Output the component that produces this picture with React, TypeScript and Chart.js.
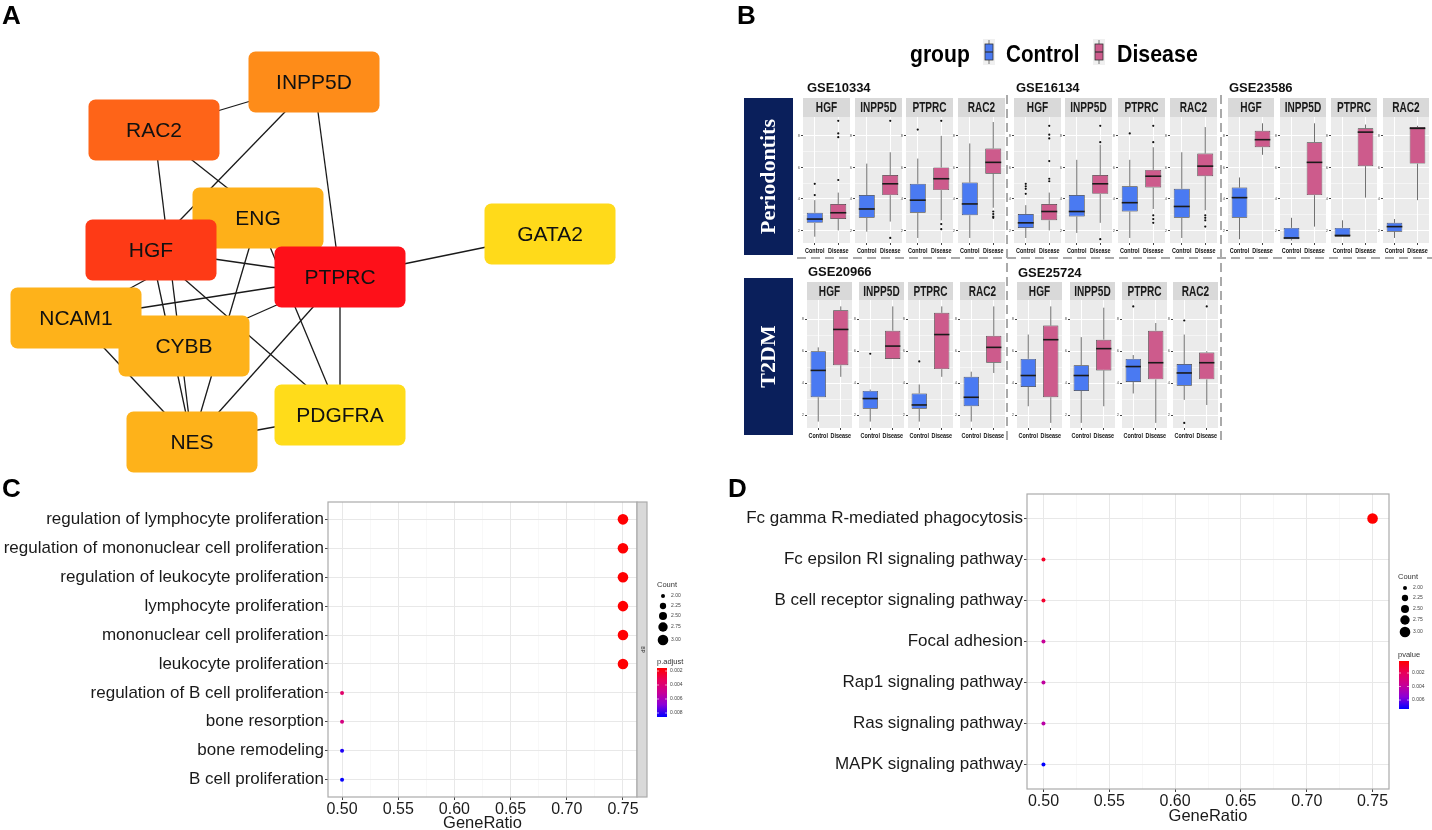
import React, { useEffect, useRef } from 'react';
import { Chart, registerables } from 'chart.js';

Chart.register(...registerables);
const SANS = "'Liberation Sans', Arial, Helvetica, sans-serif";
const SERIF = "'Liberation Serif', 'Times New Roman', serif";
Chart.defaults.font.family = SANS;

// ================= Panel A : PPI network =================
const nodeNames = ['INPP5D', 'RAC2', 'ENG', 'HGF', 'PTPRC', 'GATA2', 'NCAM1', 'CYBB', 'NES', 'PDGFRA'];
const nodeX = [314, 154, 258, 151, 340, 550, 76, 184, 192, 340];
const nodeY = [82, 130, 218, 250, 277, 234, 318, 346, 442, 415];
const edgeFrom = ['RAC2', 'INPP5D', 'INPP5D', 'RAC2', 'RAC2', 'HGF', 'ENG', 'ENG', 'HGF', 'HGF', 'NCAM1', 'NCAM1', 'CYBB', 'PTPRC', 'PTPRC', 'PTPRC', 'NCAM1', 'NES'];
const edgeTo = ['INPP5D', 'HGF', 'PTPRC', 'PTPRC', 'NES', 'NES', 'NES', 'PDGFRA', 'PTPRC', 'PDGFRA', 'ENG', 'PTPRC', 'PTPRC', 'NES', 'PDGFRA', 'GATA2', 'NES', 'PDGFRA'];
const nodeColors = ['#FE8C19', '#FE6418', '#FEB019', '#FE3A16', '#FE1019', '#FFDA1A', '#FEB21A', '#FEB21A', '#FEB21A', '#FFDC1A'];

// ================= Panel B : box plots =================
const genes = ['HGF', 'INPP5D', 'PTPRC', 'RAC2'];
const groups = ['Control', 'Disease'];
const datasetNames = ['GSE10334', 'GSE16134', 'GSE23586', 'GSE20966', 'GSE25724'];
const rowLabels = ['Periodontits', 'T2DM'];
// [gene][group] = [min, q1, median, q3, max]  (relative expression, 0-100 panel scale)
const gse10334Stats = [
  [[5, 16, 19, 24, 34], [10, 19, 24, 31, 40]],
  [[9, 20, 27, 38, 63], [17, 38, 47, 54, 72]],
  [[4, 24, 34, 47, 67], [18, 42, 51, 60, 85]],
  [[4, 22, 31, 48, 79], [28, 55, 64, 75, 96]],
];
const gse10334Outliers = [
  [[47, 38], [97, 87, 84, 50]],
  [[], [97, 4]],
  [[90], [97, 15, 11]],
  [[], [25, 23, 21, 20]],
];
const gse16134Stats = [
  [[4, 12, 16, 23, 30], [10, 18, 25, 31, 40]],
  [[8, 21, 25, 38, 66], [16, 39, 47, 54, 78]],
  [[4, 25, 32, 45, 66], [27, 44, 53, 58, 76]],
  [[4, 20, 29, 43, 72], [26, 53, 61, 71, 92]],
];
const gse16134Outliers = [
  [[47, 45, 43, 39], [93, 86, 83, 65, 51, 49]],
  [[], [93, 80, 3]],
  [[87], [93, 80, 22, 19, 16]],
  [[], [22, 20, 18, 13]],
];
const gse23586Stats = [
  [[3, 20, 36, 44, 52], [70, 76, 82, 89, 95]],
  [[2, 3, 4, 12, 20], [13, 38, 64, 80, 95]],
  [[5, 5, 6, 12, 18], [36, 61, 88, 91, 94]],
  [[4, 9, 13, 16, 19], [34, 63, 91, 92, 93]],
];
const gse23586Outliers = [[[], []], [[], []], [[], []], [[], []]];
const gse20966Stats = [
  [[5, 24, 45, 60, 63], [40, 49, 77, 92, 95]],
  [[5, 15, 23, 29, 30], [54, 54, 64, 76, 95]],
  [[5, 15, 18, 27, 34], [40, 46, 73, 90, 95]],
  [[5, 17, 24, 40, 44], [43, 51, 63, 72, 95]],
];
const gse20966Outliers = [[[], []], [[58], []], [[52], []], [[], []]];
const gse25724Stats = [
  [[17, 32, 41, 54, 73], [4, 24, 69, 80, 95]],
  [[4, 29, 41, 49, 71], [17, 45, 62, 69, 94]],
  [[27, 36, 48, 54, 57], [4, 38, 51, 76, 82]],
  [[22, 33, 43, 50, 73], [18, 38, 51, 59, 60]],
];
const gse25724Outliers = [[[], []], [[], []], [[95], []], [[84, 4], [95]]];
const bYMajor = [10, 35, 60, 85];
const bYMinor = [22.5, 47.5, 72.5];
const bYTickLabels = ['2', '4', '6', '8'];

// ================= Panel C : GO dot plot =================
const cTerms = ['regulation of lymphocyte proliferation', 'regulation of mononuclear cell proliferation', 'regulation of leukocyte proliferation', 'lymphocyte proliferation', 'mononuclear cell proliferation', 'leukocyte proliferation', 'regulation of B cell proliferation', 'bone resorption', 'bone remodeling', 'B cell proliferation'];
const cGeneRatio = [0.75, 0.75, 0.75, 0.75, 0.75, 0.75, 0.5, 0.5, 0.5, 0.5];
const cCount = [3, 3, 3, 3, 3, 3, 2, 2, 2, 2];
const cPadjust = [0.0016, 0.0016, 0.0016, 0.0016, 0.0016, 0.0016, 0.0037, 0.0044, 0.0082, 0.0085];
const cPRange = [0.00157, 0.00857];
const cPBreaks = [0.002, 0.004, 0.006, 0.008];

// ================= Panel D : KEGG dot plot =================
const dTerms = ['Fc gamma R-mediated phagocytosis', 'Fc epsilon RI signaling pathway', 'B cell receptor signaling pathway', 'Focal adhesion', 'Rap1 signaling pathway', 'Ras signaling pathway', 'MAPK signaling pathway'];
const dGeneRatio = [0.75, 0.5, 0.5, 0.5, 0.5, 0.5, 0.5];
const dCount = [3, 2, 2, 2, 2, 2, 2];
const dPvalue = [0.00022, 0.001, 0.0011, 0.0038, 0.004, 0.0042, 0.0073];
const dPRange = [0.00022, 0.00733];
const dPBreaks = [0.002, 0.004, 0.006];

const countBreaks = [2.0, 2.25, 2.5, 2.75, 3.0];
const ratioTicks = [0.5, 0.525, 0.55, 0.575, 0.6, 0.625, 0.65, 0.675, 0.7, 0.725, 0.75];

// ================= styles =================
const CTRL = '#4A7AF2';
const DIS = '#CD5B8C';
const PANEL_BG = '#EBEBEB';
const STRIP_BG = '#D9D9D9';
const NAVY = '#0A1F5B';

const bPanelLefts = [[803, 855, 906, 958], [1014, 1065, 1118, 1170], [1228, 1280, 1331, 1383], [807, 859, 908, 960], [1017, 1070, 1122, 1173]];
const bPanelWidths = [47, 47, 46, 45, 45];
const bRowOf = [0, 0, 0, 1, 1];
const bRowGeom = [
  { stripTop: 98, stripH: 19, panelBottom: 243 },
  { stripTop: 282, stripH: 18, panelBottom: 428 },
];
const bTitlePos = [[807, 88], [1016, 88], [1229, 88], [808, 272], [1018, 273]];

const gradStops: [number, number[]][] = [[0, [255, 0, 0]], [0.25, [232, 0, 92]], [0.5, [200, 0, 150]], [0.75, [140, 0, 215]], [1, [0, 0, 255]]];
function gradColor(t: number) {
  t = Math.max(0, Math.min(1, t));
  for (let i = 1; i < gradStops.length; i++) {
    const [t0, c0] = gradStops[i - 1];
    const [t1, c1] = gradStops[i];
    if (t <= t1) {
      const f = (t - t0) / (t1 - t0);
      return `rgb(${c0.map((c, k) => Math.round(c + (c1[k] - c) * f)).join(',')})`;
    }
  }
  return 'rgb(0,0,255)';
}
function sizeOf(count: number) {
  return Math.sqrt(4 + (count - 2) * 24);
}

function condensed(ctx: CanvasRenderingContext2D, text: string, x: number, y: number, font: string, sx: number, align: CanvasTextAlign = 'center', color = '#111', baseline: CanvasTextBaseline = 'alphabetic') {
  ctx.save();
  ctx.font = font;
  ctx.fillStyle = color;
  ctx.textAlign = align;
  ctx.textBaseline = baseline;
  ctx.translate(x, y);
  ctx.scale(sx, 1);
  ctx.fillText(text, 0, 0);
  ctx.restore();
}

// ================= Panel A config =================
const networkPlugin = {
  id: 'networkNodes',
  afterDatasetsDraw(chart: any) {
    const ctx: CanvasRenderingContext2D = chart.ctx;
    const meta = chart.getDatasetMeta(chart.data.datasets.length - 1);
    ctx.save();
    meta.data.forEach((pt: any, i: number) => {
      const w = 131, h = 61;
      ctx.beginPath();
      (ctx as any).roundRect(pt.x - w / 2, pt.y - h / 2, w, h, 7);
      ctx.fillStyle = nodeColors[i];
      ctx.fill();
      ctx.fillStyle = '#111';
      ctx.font = `21px ${SANS}`;
      ctx.textAlign = 'center';
      ctx.textBaseline = 'middle';
      ctx.fillText(nodeNames[i], pt.x, pt.y + 1);
    });
    ctx.font = `bold 26px ${SANS}`;
    ctx.fillStyle = '#000';
    ctx.textAlign = 'left';
    ctx.textBaseline = 'alphabetic';
    ctx.fillText('A', 2, 24);
    ctx.restore();
  },
};

function buildNetwork(): any {
  const pos = (n: string) => {
    const i = nodeNames.indexOf(n);
    return { x: nodeX[i], y: nodeY[i] };
  };
  const edges = edgeFrom.map((f, i) => ({
    data: [pos(f), pos(edgeTo[i])],
    showLine: true,
    borderColor: '#1a1a1a',
    borderWidth: 1.3,
    pointRadius: 0,
    fill: false,
  }));
  return {
    type: 'scatter',
    data: { datasets: [...edges, { data: nodeNames.map((_, i) => ({ x: nodeX[i], y: nodeY[i] })), pointRadius: 0 }] },
    options: {
      animation: false, responsive: false, events: [],
      layout: { padding: 0 },
      plugins: { legend: { display: false }, tooltip: { enabled: false } },
      scales: {
        x: { type: 'linear', min: 0, max: 740, display: false },
        y: { type: 'linear', min: 0, max: 480, reverse: true, display: false },
      },
    },
    plugins: [networkPlugin],
  };
}

// ================= Panel B frame =================
const B_OX = 730;
function legendKey(ctx: CanvasRenderingContext2D, cx: number, color: string) {
  ctx.fillStyle = '#F0F0F0';
  ctx.fillRect(cx - 6, 39, 12, 26);
  ctx.strokeStyle = '#555';
  ctx.lineWidth = 0.8;
  ctx.beginPath();
  ctx.moveTo(cx, 40); ctx.lineTo(cx, 44);
  ctx.moveTo(cx, 60); ctx.lineTo(cx, 64);
  ctx.stroke();
  ctx.fillStyle = color;
  ctx.fillRect(cx - 4, 44, 8, 16);
  ctx.strokeStyle = '#333';
  ctx.strokeRect(cx - 4, 44, 8, 16);
  ctx.beginPath();
  ctx.lineWidth = 1.2;
  ctx.moveTo(cx - 4, 52); ctx.lineTo(cx + 4, 52);
  ctx.stroke();
}
const frameBPlugin = {
  id: 'frameB',
  afterDraw(chart: any) {
    const ctx: CanvasRenderingContext2D = chart.ctx;
    const o = B_OX;
    ctx.save();
    ctx.font = `bold 26px ${SANS}`;
    ctx.fillStyle = '#000';
    ctx.textAlign = 'left';
    ctx.fillText('B', 737 - o, 24);
    // legend
    condensed(ctx, 'group', 910 - o, 62, `bold 24px ${SANS}`, 0.88, 'left', '#000');
    legendKey(ctx, 989 - o, CTRL);
    condensed(ctx, groups[0], 1006 - o, 62, `bold 24px ${SANS}`, 0.86, 'left', '#000');
    legendKey(ctx, 1099 - o, DIS);
    condensed(ctx, groups[1], 1117 - o, 62, `bold 24px ${SANS}`, 0.89, 'left', '#000');
    // dataset titles
    datasetNames.forEach((n, i) => {
      ctx.font = `bold 13px ${SANS}`;
      ctx.fillStyle = '#111';
      ctx.textAlign = 'left';
      ctx.textBaseline = 'middle';
      ctx.fillText(n, bTitlePos[i][0] - o, bTitlePos[i][1]);
    });
    // row label boxes
    const boxes = [[98, 255], [278, 435]];
    boxes.forEach(([t, b], i) => {
      ctx.fillStyle = NAVY;
      ctx.fillRect(744 - o, t, 49, b - t);
      ctx.save();
      ctx.translate(769 - o, (t + b) / 2);
      ctx.rotate(-Math.PI / 2);
      ctx.font = `bold 22px ${SERIF}`;
      ctx.fillStyle = '#fff';
      ctx.textAlign = 'center';
      ctx.textBaseline = 'middle';
      ctx.fillText(rowLabels[i], 0, 0);
      ctx.restore();
    });
    // dashed separators
    ctx.strokeStyle = '#AAAAAA';
    ctx.lineWidth = 2;
    ctx.setLineDash([9, 5]);
    ctx.beginPath();
    ctx.moveTo(797 - o, 258); ctx.lineTo(1432 - o, 258);
    ctx.moveTo(1007 - o, 95); ctx.lineTo(1007 - o, 445);
    ctx.moveTo(1221 - o, 95); ctx.lineTo(1221 - o, 445);
    ctx.stroke();
    ctx.restore();
  },
};
function buildFrameB(): any {
  return {
    type: 'scatter',
    data: { datasets: [] },
    options: {
      animation: false, responsive: false, events: [],
      plugins: { legend: { display: false }, tooltip: { enabled: false } },
      scales: { x: { display: false }, y: { display: false } },
    },
    plugins: [frameBPlugin],
  };
}

// ================= Panel B subpanels =================
function makeBoxPlugin(stats: number[][], outl: number[][], gene: string, stripH: number) {
  return {
    id: 'boxExtras',
    beforeDraw(chart: any) {
      const { ctx, chartArea: a } = chart;
      ctx.save();
      ctx.fillStyle = PANEL_BG;
      ctx.fillRect(a.left, a.top, a.right - a.left, a.bottom - a.top);
      ctx.restore();
    },
    beforeDatasetsDraw(chart: any) {
      const ctx: CanvasRenderingContext2D = chart.ctx;
      const y = chart.scales.y;
      const meta = chart.getDatasetMeta(0);
      ctx.save();
      ctx.strokeStyle = '#333';
      ctx.lineWidth = 0.7;
      meta.data.forEach((el: any, i: number) => {
        const s = stats[i];
        ctx.beginPath();
        ctx.moveTo(el.x, y.getPixelForValue(s[0])); ctx.lineTo(el.x, y.getPixelForValue(s[1]));
        ctx.moveTo(el.x, y.getPixelForValue(s[3])); ctx.lineTo(el.x, y.getPixelForValue(s[4]));
        ctx.stroke();
      });
      ctx.restore();
    },
    afterDatasetsDraw(chart: any) {
      const ctx: CanvasRenderingContext2D = chart.ctx;
      const y = chart.scales.y;
      const meta = chart.getDatasetMeta(0);
      ctx.save();
      meta.data.forEach((el: any, i: number) => {
        const s = stats[i];
        ctx.strokeStyle = '#1a1a1a';
        ctx.lineWidth = 1.6;
        ctx.beginPath();
        const ym = y.getPixelForValue(s[2]);
        ctx.moveTo(el.x - el.width / 2, ym); ctx.lineTo(el.x + el.width / 2, ym);
        ctx.stroke();
        ctx.fillStyle = '#111';
        outl[i].forEach((v) => {
          ctx.beginPath();
          ctx.arc(el.x, y.getPixelForValue(v), 1.1, 0, Math.PI * 2);
          ctx.fill();
        });
      });
      ctx.restore();
    },
    afterDraw(chart: any) {
      const ctx: CanvasRenderingContext2D = chart.ctx;
      const a = chart.chartArea;
      ctx.save();
      ctx.fillStyle = STRIP_BG;
      ctx.fillRect(a.left, 0, a.right - a.left, stripH);
      ctx.restore();
      condensed(ctx, gene, (a.left + a.right) / 2, stripH / 2 + 1, `bold 14px ${SANS}`, 0.72, 'center', '#1a1a1a', 'middle');
      const meta = chart.getDatasetMeta(0);
      meta.data.forEach((el: any, i: number) => {
        condensed(ctx, groups[i], el.x, a.bottom + 8, `bold 8px ${SANS}`, 0.68, 'center', '#111', 'middle');
      });
    },
  };
}

function buildBox(stats: number[][], outl: number[][], gene: string, stripH: number, axisH: number): any {
  return {
    type: 'bar',
    data: {
      labels: groups,
      datasets: [{
        data: stats.map((s) => [s[1], s[3]]),
        backgroundColor: [CTRL, DIS],
        borderColor: '#333',
        borderWidth: 0.7,
        borderSkipped: false,
        barPercentage: 0.68,
        categoryPercentage: 1,
      }],
    },
    options: {
      animation: false, responsive: false, events: [],
      layout: { padding: { top: stripH, left: 0, right: 0, bottom: 0 } },
      plugins: { legend: { display: false }, tooltip: { enabled: false } },
      scales: {
        x: {
          type: 'category', offset: true,
          grid: { offset: false, color: '#ffffff', lineWidth: 1, tickLength: 2, tickColor: '#444' },
          border: { display: false },
          ticks: { display: false },
          afterFit: (s: any) => { s.height = axisH; },
        },
        y: {
          type: 'linear', min: 0, max: 100,
          afterBuildTicks: (s: any) => { s.ticks = [...bYMajor, ...bYMinor].sort((p, q) => p - q).map((v) => ({ value: v })); },
          ticks: {
            font: { size: 4 }, color: '#555', padding: 1, autoSkip: false,
            callback: (v: number) => { const k = bYMajor.indexOf(v); return k >= 0 ? bYTickLabels[k] : ''; },
          },
          grid: {
            color: '#ffffff',
            lineWidth: (c: any) => (bYMajor.includes(c.tick?.value) ? 1 : 0.5),
            tickLength: 2,
            tickColor: (c: any) => (bYMajor.includes(c.tick?.value) ? '#444' : 'rgba(0,0,0,0)'),
          },
          border: { display: false },
          afterFit: (s: any) => { s.width = 7; },
        },
      },
    },
    plugins: [makeBoxPlugin(stats, outl, gene, stripH)],
  };
}

// ================= Panel C / D dot plots =================
interface DotGeom {
  ox: number; oy: number; axisW: number; padTop: number; padRight: number; axisH: number; titlePadBottom: number;
  letter: string; letterX: number; letterY: number;
  strip: null | { x0: number; x1: number; text: string };
  lgX: number; countTitleY: number; dotX: number; dotYs: number[]; labX: number;
  colTitle: string; colTitleY: number; barX: number; barW: number; barY0: number; barY1: number; colLabX: number;
}

function makeDotPlugin(g: DotGeom, pRange: number[], pBreaks: number[]) {
  return {
    id: 'dotExtras',
    afterDraw(chart: any) {
      const ctx: CanvasRenderingContext2D = chart.ctx;
      const a = chart.chartArea;
      ctx.save();
      ctx.strokeStyle = '#ABABAB';
      ctx.lineWidth = 1.2;
      ctx.strokeRect(a.left, a.top, a.right - a.left, a.bottom - a.top);
      if (g.strip) {
        ctx.fillStyle = STRIP_BG;
        ctx.fillRect(g.strip.x0 - g.ox, a.top, g.strip.x1 - g.strip.x0, a.bottom - a.top);
        ctx.strokeRect(g.strip.x0 - g.ox, a.top, g.strip.x1 - g.strip.x0, a.bottom - a.top);
        ctx.save();
        ctx.translate((g.strip.x0 + g.strip.x1) / 2 - g.ox, (a.top + a.bottom) / 2);
        ctx.rotate(Math.PI / 2);
        ctx.font = `5px ${SANS}`;
        ctx.fillStyle = '#333';
        ctx.textAlign = 'center';
        ctx.textBaseline = 'middle';
        ctx.fillText(g.strip.text, 0, 0);
        ctx.restore();
      }
      // panel letter
      ctx.font = `bold 26px ${SANS}`;
      ctx.fillStyle = '#000';
      ctx.textAlign = 'left';
      ctx.textBaseline = 'alphabetic';
      ctx.fillText(g.letter, g.letterX - g.ox, g.letterY - g.oy);
      // size legend
      ctx.font = `7.5px ${SANS}`;
      ctx.fillStyle = '#333';
      ctx.textBaseline = 'middle';
      ctx.fillText('Count', g.lgX - g.ox, g.countTitleY - g.oy);
      countBreaks.forEach((c, i) => {
        ctx.fillStyle = '#000';
        ctx.beginPath();
        ctx.arc(g.dotX - g.ox, g.dotYs[i] - g.oy, sizeOf(c), 0, Math.PI * 2);
        ctx.fill();
        ctx.font = `5px ${SANS}`;
        ctx.fillStyle = '#444';
        ctx.fillText(c.toFixed(2), g.labX - g.ox, g.dotYs[i] - g.oy);
      });
      // colour legend
      ctx.font = `7.5px ${SANS}`;
      ctx.fillStyle = '#333';
      ctx.fillText(g.colTitle, g.lgX - g.ox, g.colTitleY - g.oy);
      const y0 = g.barY0 - g.oy, y1 = g.barY1 - g.oy;
      const grad = ctx.createLinearGradient(0, y0, 0, y1);
      gradStops.forEach(([t]) => grad.addColorStop(t, gradColor(t)));
      ctx.fillStyle = grad;
      ctx.fillRect(g.barX - g.ox, y0, g.barW, y1 - y0);
      ctx.font = `5px ${SANS}`;
      ctx.fillStyle = '#444';
      pBreaks.forEach((p) => {
        const yy = y0 + ((p - pRange[0]) / (pRange[1] - pRange[0])) * (y1 - y0);
        ctx.strokeStyle = '#fff';
        ctx.lineWidth = 0.6;
        ctx.beginPath();
        ctx.moveTo(g.barX - g.ox, yy); ctx.lineTo(g.barX - g.ox + 2, yy);
        ctx.moveTo(g.barX - g.ox + g.barW - 2, yy); ctx.lineTo(g.barX - g.ox + g.barW, yy);
        ctx.stroke();
        ctx.fillText(p.toFixed(3), g.colLabX - g.ox, yy);
      });
      ctx.restore();
    },
  };
}

function buildDot(g: DotGeom, terms: string[], ratio: number[], count: number[], pvals: number[], pRange: number[], pBreaks: number[]): any {
  const n = terms.length;
  return {
    type: 'scatter',
    data: {
      datasets: [{
        data: terms.map((_, i) => ({ x: ratio[i], y: i + 1 })),
        pointRadius: count.map(sizeOf),
        pointBackgroundColor: pvals.map((p) => gradColor((p - pRange[0]) / (pRange[1] - pRange[0]))),
        pointBorderWidth: 0,
        pointBorderColor: 'rgba(0,0,0,0)',
      }],
    },
    options: {
      animation: false, responsive: false, events: [],
      layout: { padding: { top: g.padTop, right: g.padRight, left: 0, bottom: 0 } },
      plugins: { legend: { display: false }, tooltip: { enabled: false } },
      scales: {
        x: {
          type: 'linear', min: 0.4875, max: 0.7625,
          afterBuildTicks: (s: any) => { s.ticks = ratioTicks.map((v) => ({ value: v })); },
          ticks: {
            autoSkip: false, maxRotation: 0, padding: 0, font: { size: 16 }, color: '#1a1a1a',
            callback: (v: number, i: number) => (i % 2 === 0 ? v.toFixed(2) : ''),
          },
          grid: {
            color: (c: any) => (c.index % 2 === 0 ? '#E8E8E8' : '#F3F3F3'),
            lineWidth: (c: any) => (c.index % 2 === 0 ? 1 : 0.6),
            tickLength: 3,
            tickColor: (c: any) => (c.index % 2 === 0 ? '#444' : 'rgba(0,0,0,0)'),
          },
          border: { display: false },
          title: { display: true, text: 'GeneRatio', font: { size: 16.5 }, color: '#1a1a1a', padding: { top: 0, bottom: g.titlePadBottom } },
          afterFit: (s: any) => { s.height = g.axisH; },
        },
        y: {
          type: 'linear', min: 0.4, max: n + 0.6, reverse: true,
          afterBuildTicks: (s: any) => { s.ticks = terms.map((_, i) => ({ value: i + 1 })); },
          ticks: {
            autoSkip: false, padding: 1, font: { size: 17 }, color: '#1a1a1a',
            callback: (v: number) => terms[Math.round(v) - 1] ?? '',
          },
          grid: { color: '#E8E8E8', lineWidth: 1, tickLength: 3, tickColor: '#444' },
          border: { display: false },
          afterFit: (s: any) => { s.width = g.axisW; },
        },
      },
    },
    plugins: [makeDotPlugin(g, pRange, pBreaks)],
  };
}

const cGeom: DotGeom = {
  ox: 0, oy: 470, axisW: 328, padTop: 32, padRight: 63, axisH: 36, titlePadBottom: 0,
  letter: 'C', letterX: 2, letterY: 497,
  strip: { x0: 637, x1: 647, text: 'BP' },
  lgX: 657, countTitleY: 585, dotX: 663, dotYs: [596, 606, 616, 627, 640], labX: 671,
  colTitle: 'p.adjust', colTitleY: 662, barX: 657, barW: 10, barY0: 668, barY1: 717, colLabX: 670,
};
const dGeom: DotGeom = {
  ox: 700, oy: 470, axisW: 327, padTop: 24, padRight: 43, axisH: 41, titlePadBottom: 4,
  letter: 'D', letterX: 728, letterY: 497,
  strip: null,
  lgX: 1398, countTitleY: 577, dotX: 1405, dotYs: [588, 598, 609, 620, 632], labX: 1413,
  colTitle: 'pvalue', colTitleY: 655, barX: 1399, barW: 10, barY0: 661, barY1: 709, colLabX: 1412,
};

// ================= React plumbing =================
function ChartCanvas({ left, top, width, height, build }: { left: number; top: number; width: number; height: number; build: () => any }) {
  const ref = useRef<HTMLCanvasElement | null>(null);
  useEffect(() => {
    if (!ref.current) return;
    const chart = new Chart(ref.current, build());
    return () => chart.destroy();
  }, []);
  return <canvas ref={ref} width={width} height={height} style={{ position: 'absolute', left, top, width, height, display: 'block' }} />;
}

const allStats = [gse10334Stats, gse16134Stats, gse23586Stats, gse20966Stats, gse25724Stats];
const allOutliers = [gse10334Outliers, gse16134Outliers, gse23586Outliers, gse20966Outliers, gse25724Outliers];

export default function App() {
  const subpanels: React.ReactNode[] = [];
  datasetNames.forEach((_, d) => {
    const rg = bRowGeom[bRowOf[d]];
    const axisH = 14;
    genes.forEach((gene, gi) => {
      const left = bPanelLefts[d][gi] - 7;
      const width = bPanelWidths[d] + 7;
      const top = rg.stripTop;
      const height = rg.panelBottom + axisH - rg.stripTop;
      subpanels.push(
        <ChartCanvas key={`${d}-${gi}`} left={left} top={top} width={width} height={height}
          build={() => buildBox(allStats[d][gi], allOutliers[d][gi], gene, rg.stripH, axisH)} />
      );
    });
  });
  return (
    <div style={{ position: 'absolute', left: 0, top: 0, width: 1432, height: 830, background: '#ffffff', overflow: 'hidden' }}>
      <ChartCanvas left={0} top={0} width={740} height={480} build={buildNetwork} />
      <ChartCanvas left={B_OX} top={0} width={1432 - B_OX} height={470} build={buildFrameB} />
      <ChartCanvas left={0} top={470} width={700} height={363}
        build={() => buildDot(cGeom, cTerms, cGeneRatio, cCount, cPadjust, cPRange, cPBreaks)} />
      <ChartCanvas left={700} top={470} width={732} height={360}
        build={() => buildDot(dGeom, dTerms, dGeneRatio, dCount, dPvalue, dPRange, dPBreaks)} />
      {subpanels}
    </div>
  );
}
